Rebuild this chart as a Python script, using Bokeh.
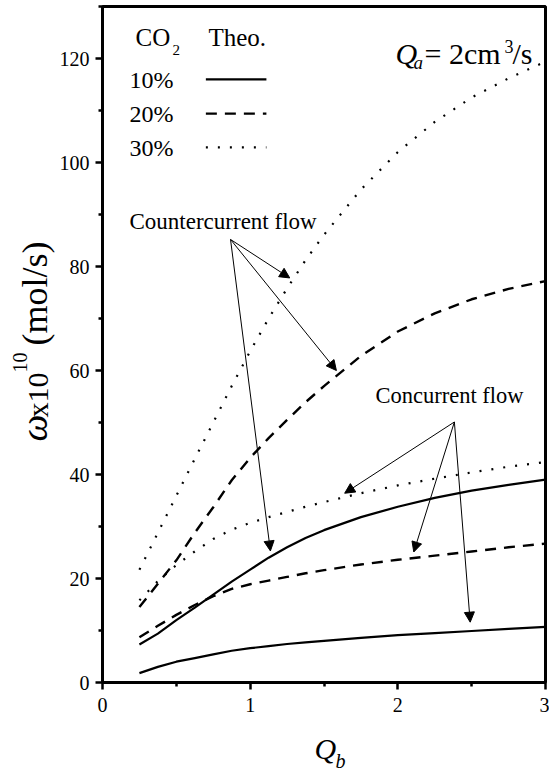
import math
from bokeh.plotting import figure
from bokeh.models import Label, Arrow, NormalHead, FixedTicker
from bokeh.layouts import row, column
from bokeh.embed import file_html
from bokeh.resources import INLINE

# ---------------- data ----------------
qb = [0.25, 0.375, 0.5, 0.625, 0.75, 0.875, 1.0, 1.125, 1.25, 1.375, 1.5, 1.75, 2.0, 2.25, 2.5, 2.75, 3.0]
co10_concurrent = [1.8, 3.0, 4.0, 4.7, 5.4, 6.1, 6.6, 7.0, 7.4, 7.7, 8.0, 8.6, 9.1, 9.5, 9.9, 10.3, 10.7]
co10_counter = [7.3, 9.4, 12.0, 14.4, 16.9, 19.4, 21.7, 24.0, 26.0, 27.8, 29.3, 31.8, 33.8, 35.5, 36.9, 38.0, 39.0]
co20_concurrent = [8.7, 10.9, 13.0, 14.9, 16.6, 18.0, 18.9, 19.6, 20.3, 21.0, 21.6, 22.7, 23.6, 24.4, 25.2, 26.0, 26.7]
co20_counter = [14.5, 19.0, 23.5, 28.8, 33.7, 38.9, 43.2, 47.0, 50.5, 53.9, 57.0, 62.8, 67.5, 71.0, 73.7, 75.7, 77.2]
co30_concurrent = [15.8, 19.5, 22.6, 25.2, 27.6, 29.4, 30.7, 31.8, 32.8, 33.8, 34.7, 36.4, 37.9, 39.2, 40.4, 41.5, 42.4]
co30_counter = [21.7, 28.8, 35.9, 43.0, 50.0, 57.0, 63.7, 70.0, 75.8, 81.2, 86.1, 94.8, 102.0, 107.8, 112.5, 116.2, 119.4]

x_ticks = [0, 1, 2, 3]
x_minor = [0.5, 1.5, 2.5]
y_ticks = [0, 20, 40, 60, 80, 100, 120]
y_minor = [10, 30, 50, 70, 90, 110, 130]

legend_labels = ["10%", "20%", "30%"]
legend_x = [0.70, 1.11]
legend_y = [116.0, 109.4, 102.9]

# annotation arrows (data units): origin -> tips
counter_origin = (0.867, 85.2)
counter_tips = [(1.268, 77.8), (1.584, 60.0), (1.137, 25.3)]
concur_origin = (2.383, 50.1)
concur_tips = [(1.64, 36.4), (2.108, 25.1), (2.49, 11.6)]

FONT = "Liberation Serif"
styles = {
    "solid": dict(line_dash="solid", line_width=2.2),
    "dashed": dict(line_dash="11 8", line_width=2.4),
    "dotted": dict(line_dash="2 10", line_width=2.2),
}

LEFT_W = 56
MAIN_H = 721
BOTTOM_H = 50

p = figure(width=549 - LEFT_W, height=MAIN_H, x_range=(0, 3), y_range=(0, 130),
           output_backend="svg", toolbar_location=None,
           min_border_left=102 - LEFT_W, min_border_right=4, min_border_top=6,
           min_border_bottom=MAIN_H - 682)
p.xgrid.visible = False
p.ygrid.visible = False
p.outline_line_color = "black"
p.outline_line_width = 3
p.background_fill_color = "white"
p.border_fill_color = "white"

series = [
    (co10_concurrent, "solid"), (co10_counter, "solid"),
    (co20_concurrent, "dashed"), (co20_counter, "dashed"),
    (co30_concurrent, "dotted"), (co30_counter, "dotted"),
]
for ys, st in series:
    p.line(qb, ys, line_color="black", **styles[st])

for ly, st in zip(legend_y, ["solid", "dashed", "dotted"]):
    p.line(legend_x, [ly, ly], line_color="black", **styles[st])

# axes
for ax, maj, mnr in ((p.xaxis[0], x_ticks, x_minor), (p.yaxis[0], y_ticks, y_minor)):
    ax.ticker = FixedTicker(ticks=maj, minor_ticks=mnr)
    ax.axis_line_width = 3
    ax.major_tick_line_width = 2.5
    ax.minor_tick_line_width = 2.5
    ax.major_tick_out = 7
    ax.major_tick_in = 0
    ax.minor_tick_out = 4
    ax.minor_tick_in = 0
    ax.major_label_text_font = FONT
    ax.major_label_text_font_size = "20px"
    ax.major_label_text_color = "black"
p.xaxis.major_label_standoff = 8
p.yaxis.major_label_standoff = 6

K = 0.35  # anchor sits about this many em above the baseline in the rendered svg


def lab(fig, x, y, text, size, italic=False, rotated=False):
    """x, y: baseline start of the text, screen px from the frame's bottom-left."""
    if rotated:
        x = x - K * size
        angle = math.pi / 2
    else:
        y = y + K * size
        angle = 0.0
    fig.add_layout(Label(x=x, y=y, x_units="screen", y_units="screen", text=text,
                         text_font=FONT, text_font_size=f"{size}px",
                         text_font_style="italic" if italic else "normal",
                         text_color="black", angle=angle,
                         text_align="left", text_baseline="alphabetic"))


# legend texts
lab(p, 33, 636, "CO", 25)
lab(p, 70, 627, "2", 15)
lab(p, 106, 636, "Theo.", 25)
for i, t in enumerate(legend_labels):
    lab(p, 27, 594 - 34 * i, t, 24)

# Q_a text
lab(p, 293, 619, "Q", 30, italic=True)
lab(p, 311, 613, "a", 19, italic=True)
lab(p, 322, 619, "= 2cm", 30)
lab(p, 402, 630, "3", 18)
lab(p, 410, 619, "/s", 30)

# flow annotations
lab(p, 27, 453, "Countercurrent flow", 23)
lab(p, 273, 279, "Concurrent flow", 22.5)

for origin, tips in ((counter_origin, counter_tips), (concur_origin, concur_tips)):
    for tx, ty in tips:
        p.add_layout(Arrow(end=NormalHead(size=10, fill_color="black", line_color="black", line_width=1),
                           x_start=origin[0], y_start=origin[1], x_end=tx, y_end=ty,
                           line_color="black", line_width=1))


def blank(w, h):
    f = figure(width=w, height=h, x_range=(0, 1), y_range=(0, 1), min_border=0,
               output_backend="svg", toolbar_location=None,
               x_axis_location=None, y_axis_location=None)
    f.grid.visible = False
    f.outline_line_color = None
    f.background_fill_color = "white"
    f.border_fill_color = "white"
    return f


# y axis label panel
ylab = blank(LEFT_W, MAIN_H)
lab(ylab, 47, MAIN_H - 480, "ω", 38, italic=True, rotated=True)
lab(ylab, 47, MAIN_H - 456, "x10", 30, rotated=True)
lab(ylab, 26, MAIN_H - 411, "10", 20, rotated=True)
lab(ylab, 47, MAIN_H - 384, "(mol/s)", 36, rotated=True)

# x axis label panel
xlab = blank(549, BOTTOM_H)
lab(xlab, 314, BOTTOM_H - 37, "Q", 30, italic=True)
lab(xlab, 335, BOTTOM_H - 46, "b", 20, italic=True)

layout = column(row(ylab, p), xlab)
open("out.html", "w").write(file_html(layout, INLINE))
